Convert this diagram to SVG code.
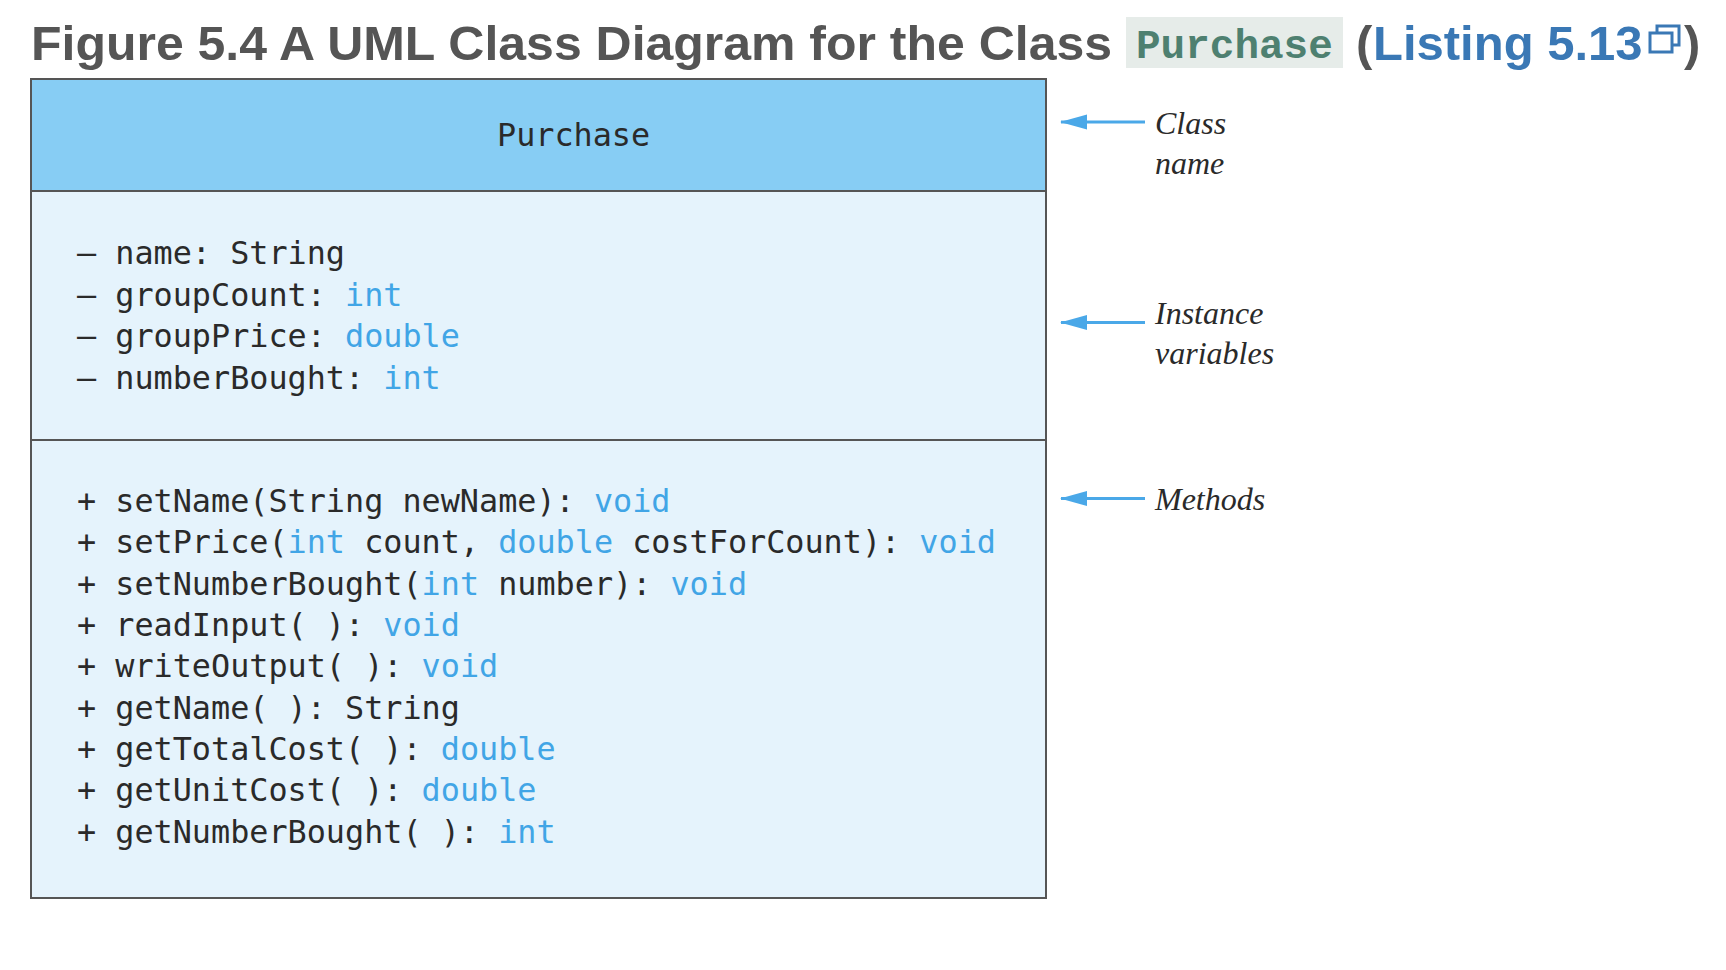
<svg xmlns="http://www.w3.org/2000/svg" width="1726" height="970" viewBox="0 0 1726 970">
<style>
.title{font-family:"Liberation Sans",Arial,sans-serif;font-weight:bold;font-size:49px;fill:#555555}
.link{fill:#3a78b5}
.chip{fill:#e6ece9}
.chiptxt{font-family:"Liberation Mono","Courier New",monospace;font-weight:bold;font-size:41px;fill:#4e8070}
.mono{font-family:"DejaVu Sans Mono","Liberation Mono",monospace;font-size:31.8px;fill:#2a2a2a}
.kw{fill:#41a5e6}
.box{stroke:#555555;stroke-width:2}
.ann{font-family:"Liberation Serif","Times New Roman",serif;font-style:italic;font-size:32px;fill:#2a2a2a}
.arrow{stroke:#4aa8e8;stroke-width:3;fill:none}
</style>
<defs>
<marker id="ah" markerUnits="userSpaceOnUse" markerWidth="28" markerHeight="18" refX="26" refY="9" orient="auto" viewBox="0 0 28 18">
<path d="M27,9 L0,1.5 L0,16.5 Z" fill="#4aa8e8"/>
</marker>
</defs>
<rect width="1726" height="970" fill="#ffffff"/>
<g id="title">
<text class="title" x="31" y="60" textLength="1081" lengthAdjust="spacingAndGlyphs">Figure 5.4 A UML Class Diagram for the Class</text>
<rect class="chip" x="1126" y="17" width="217" height="51"/>
<text class="chiptxt" x="1136" y="58">Purchase</text>
<text class="title" x="1356" y="60">(</text>
<text class="title link" x="1373" y="60">Listing 5.13</text>
<rect x="1657" y="26" width="22" height="19" fill="none" stroke="#3a78b5" stroke-width="3"/>
<rect x="1650" y="33" width="22" height="19" fill="#ffffff" stroke="#3a78b5" stroke-width="3"/>
<text class="title" x="1684" y="60">)</text>
</g>
<g id="class-purchase">
<rect class="box" x="31" y="79" width="1015" height="819" fill="#e5f3fc"/>
<rect class="box" x="31" y="79" width="1015" height="112" fill="#87cdf4"/>
<line class="box" x1="31" y1="440" x2="1046" y2="440"/>
<text class="mono" x="497" y="146">Purchase</text>
<g id="attributes">
<text class="mono" x="77" y="264">– name: String</text>
<text class="mono" x="77" y="305.5">– groupCount: <tspan class="kw">int</tspan></text>
<text class="mono" x="77" y="347">– groupPrice: <tspan class="kw">double</tspan></text>
<text class="mono" x="77" y="388.5">– numberBought: <tspan class="kw">int</tspan></text>
</g>
<g id="methods">
<text class="mono" x="77" y="512">+ setName(String newName): <tspan class="kw">void</tspan></text>
<text class="mono" x="77" y="553">+ setPrice(<tspan class="kw">int</tspan> count, <tspan class="kw">double</tspan> costForCount): <tspan class="kw">void</tspan></text>
<text class="mono" x="77" y="594.5">+ setNumberBought(<tspan class="kw">int</tspan> number): <tspan class="kw">void</tspan></text>
<text class="mono" x="77" y="636">+ readInput( ): <tspan class="kw">void</tspan></text>
<text class="mono" x="77" y="677">+ writeOutput( ): <tspan class="kw">void</tspan></text>
<text class="mono" x="77" y="718.5">+ getName( ): String</text>
<text class="mono" x="77" y="760">+ getTotalCost( ): <tspan class="kw">double</tspan></text>
<text class="mono" x="77" y="801">+ getUnitCost( ): <tspan class="kw">double</tspan></text>
<text class="mono" x="77" y="842.5">+ getNumberBought( ): <tspan class="kw">int</tspan></text>
</g>
</g>
<g id="label-class-name">
<text class="ann" x="1155" y="134">Class</text>
<text class="ann" x="1155" y="174">name</text>
</g>
<g id="label-instance-variables">
<text class="ann" x="1155" y="324">Instance</text>
<text class="ann" x="1155" y="364">variables</text>
</g>
<g id="label-methods">
<text class="ann" x="1155" y="510">Methods</text>
</g>
<g id="connectors">
<line class="arrow" x1="1145" y1="122" x2="1061" y2="122" marker-end="url(#ah)"/>
<line class="arrow" x1="1145" y1="322.5" x2="1061" y2="322.5" marker-end="url(#ah)"/>
<line class="arrow" x1="1145" y1="498.5" x2="1061" y2="498.5" marker-end="url(#ah)"/>
</g>
</svg>
